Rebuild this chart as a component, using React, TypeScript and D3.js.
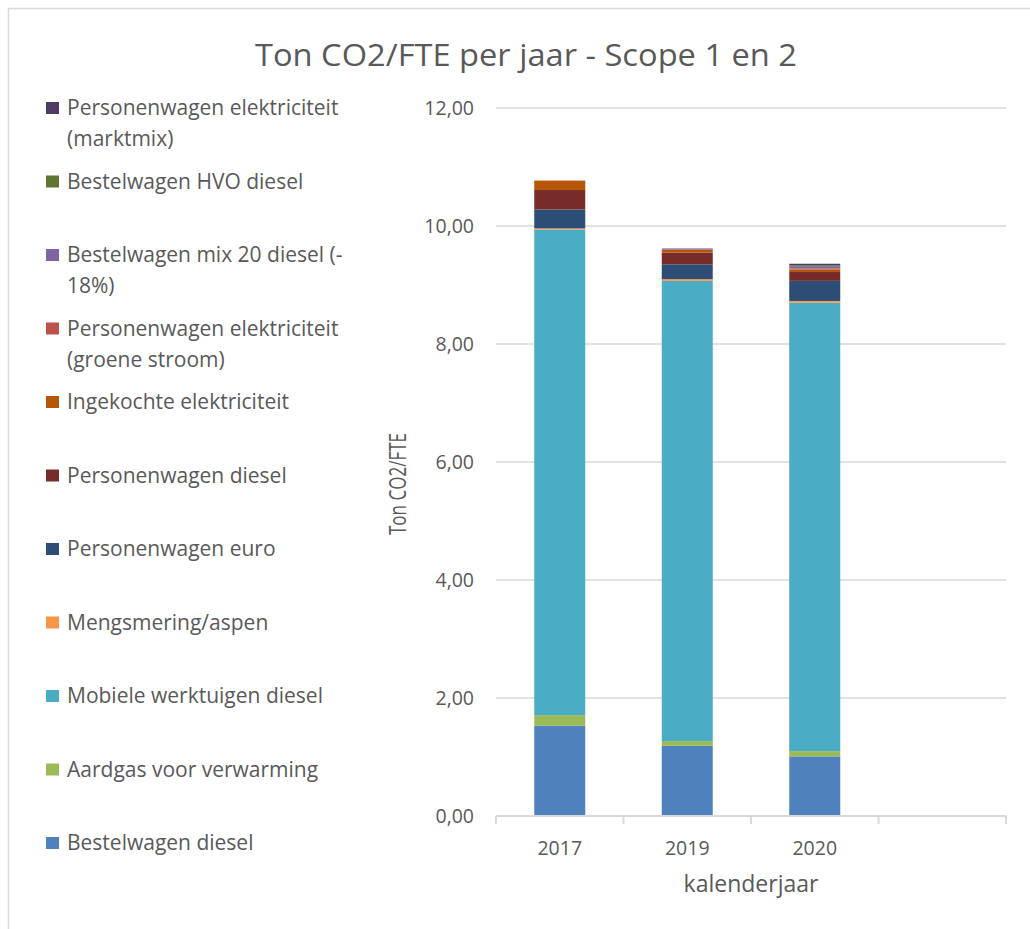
import React from "react";
import * as d3 from "d3";

const years = ["2017", "2019", "2020", ""];

// series, stacked from bottom to top
const bestelwagenDiesel = [1.53, 1.19, 1.01, 0];
const aardgas = [0.18, 0.08, 0.09, 0];
const mobieleWerktuigen = [8.23, 7.8, 7.6, 0];
const mengsmering = [0.02, 0.03, 0.03, 0];
const personenwagenEuro = [0.32, 0.25, 0.34, 0];
const personenwagenDiesel = [0.33, 0.2, 0.15, 0];
const ingekochteElektriciteit = [0.16, 0.05, 0.04, 0];
const groeneStroom = [0, 0, 0.02, 0];
const mix20Diesel = [0, 0.02, 0.03, 0];
const hvoDiesel = [0, 0, 0.02, 0];
const marktmix = [0, 0, 0.03, 0];

const seriesKeys = [
  "bestelwagenDiesel",
  "aardgas",
  "mobieleWerktuigen",
  "mengsmering",
  "personenwagenEuro",
  "personenwagenDiesel",
  "ingekochteElektriciteit",
  "groeneStroom",
  "mix20Diesel",
  "hvoDiesel",
  "marktmix",
];
const seriesValues = [
  bestelwagenDiesel,
  aardgas,
  mobieleWerktuigen,
  mengsmering,
  personenwagenEuro,
  personenwagenDiesel,
  ingekochteElektriciteit,
  groeneStroom,
  mix20Diesel,
  hvoDiesel,
  marktmix,
];
const seriesLabels = [
  ["Bestelwagen diesel"],
  ["Aardgas voor verwarming"],
  ["Mobiele werktuigen diesel"],
  ["Mengsmering/aspen"],
  ["Personenwagen euro"],
  ["Personenwagen diesel"],
  ["Ingekochte elektriciteit"],
  ["Personenwagen elektriciteit", "(groene stroom)"],
  ["Bestelwagen mix 20 diesel (-", "18%)"],
  ["Bestelwagen HVO diesel"],
  ["Personenwagen elektriciteit", "(marktmix)"],
];
const seriesColors = [
  "#4f81bd",
  "#9bbb59",
  "#4bacc6",
  "#f79646",
  "#2c4d75",
  "#772c2a",
  "#b65708",
  "#c0504d",
  "#8064a2",
  "#5f7530",
  "#4d3b62",
];

const yTicks = [0, 2, 4, 6, 8, 10, 12];

const W = 1030;
const H = 929;
const plot = { left: 496, right: 1006, top: 108, bottom: 816 };
const font = "'Open Sans', sans-serif";
const textColor = "#595959";
const gridColor = "#d9d9d9";

export default function App() {
  const rows = years.map((y, i) => {
    const r: Record<string, any> = { year: y };
    seriesKeys.forEach((k, j) => (r[k] = seriesValues[j][i]));
    return r;
  });
  const stacked = d3.stack().keys(seriesKeys)(rows as any);

  const x = d3
    .scaleBand()
    .domain(years.map((d, i) => String(i)))
    .range([plot.left, plot.right])
    .paddingInner(0.6)
    .paddingOuter(0.3);
  const y = d3.scaleLinear().domain([0, 12]).range([plot.bottom, plot.top]);
  const step = x.step();
  const fmt = (v: number) => v.toFixed(2).replace(".", ",");

  const legendTop = 108;
  const legendStep = 73.5;
  const legendItems = seriesKeys.map((k, i) => i).reverse();

  return (
    <svg
      width={W}
      height={H}
      style={{ position: "absolute", left: 0, top: 0, display: "block", background: "#fff" }}
      fontFamily={font}
    >
      <rect x={8.5} y={8.5} width={W} height={H} fill="#fff" stroke={gridColor} strokeWidth={1.5} />
      <text
        x={526}
        y={66}
        textAnchor="middle"
        fontSize={31}
        textLength={542}
        lengthAdjust="spacingAndGlyphs"
        fill={textColor}
      >
        Ton CO2/FTE per jaar - Scope 1 en 2
      </text>

      {/* gridlines + y labels */}
      {yTicks.map((t) => (
        <g key={t}>
          {t > 0 && (
            <line x1={plot.left} x2={plot.right} y1={y(t)} y2={y(t)} stroke={gridColor} strokeWidth={1.5} />
          )}
          <text x={474} y={y(t)} dy="0.35em" textAnchor="end" fontSize={19.5} fill={textColor}>
            {fmt(t)}
          </text>
        </g>
      ))}

      {/* bars */}
      {stacked.map((s, j) => (
        <g key={s.key} fill={seriesColors[j]}>
          {s.map((d, i) =>
            d[1] - d[0] > 0 ? (
              <rect
                key={i}
                x={x(String(i))}
                width={x.bandwidth()}
                y={y(d[1])}
                height={y(d[0]) - y(d[1])}
              />
            ) : null
          )}
        </g>
      ))}

      {/* x axis */}
      <line x1={plot.left} x2={plot.right} y1={plot.bottom} y2={plot.bottom} stroke={gridColor} strokeWidth={2} />
      {d3.range(years.length + 1).map((i) => (
        <line
          key={i}
          x1={plot.left + i * step}
          x2={plot.left + i * step}
          y1={plot.bottom}
          y2={plot.bottom + 8}
          stroke={gridColor}
          strokeWidth={2}
        />
      ))}
      {years.map((yr, i) => (
        <text
          key={i}
          x={(x(String(i)) as number) + x.bandwidth() / 2}
          y={855}
          textAnchor="middle"
          fontSize={19.5}
          fill={textColor}
        >
          {yr}
        </text>
      ))}
      <text x={(plot.left + plot.right) / 2} y={892} textAnchor="middle" fontSize={23} fill={textColor}>
        kalenderjaar
      </text>
      <text
        transform={`translate(406,484) rotate(-90)`}
        textAnchor="middle"
        fontSize={23}
        textLength={102}
        lengthAdjust="spacingAndGlyphs"
        fill={textColor}
      >
        Ton CO2/FTE
      </text>

      {/* legend */}
      {legendItems.map((j, i) => {
        const cy = legendTop + i * legendStep;
        return (
          <g key={j}>
            <rect x={46} y={cy - 6} width={13} height={12} fill={seriesColors[j]} />
            {seriesLabels[j].map((line, li) => (
              <text key={li} x={67} y={cy + li * 31} dy="0.35em" fontSize={21} fill={textColor}>
                {line}
              </text>
            ))}
          </g>
        );
      })}
    </svg>
  );
}
